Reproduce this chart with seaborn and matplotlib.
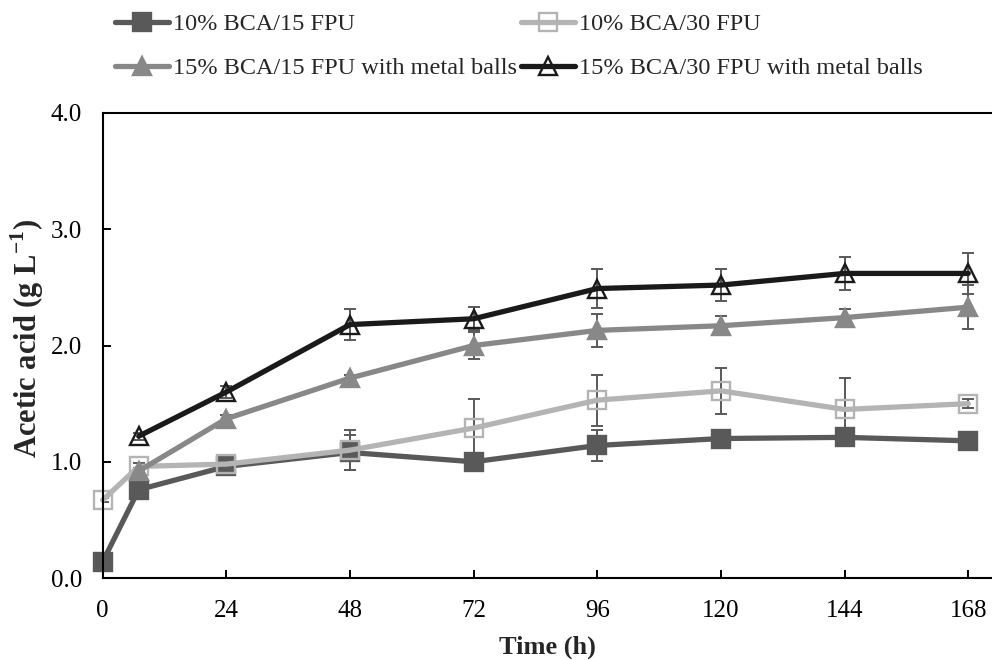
"""Acetic acid timecourse, four hydrolysis conditions, with error bars."""
import pandas as pd
import seaborn as sns
import matplotlib.pyplot as plt

sns.set_style("ticks")
plt.rcParams["font.family"] = ["Liberation Serif", "DejaVu Serif"]
plt.rcParams["mathtext.fontset"] = "custom"
plt.rcParams["mathtext.rm"] = "Liberation Serif"
plt.rcParams["mathtext.bf"] = "Liberation Serif:bold"


############################## Data.

labels = ["10% BCA/15 FPU", "10% BCA/30 FPU",
          "15% BCA/15 FPU with metal balls", "15% BCA/30 FPU with metal balls"]

time_10 = [0, 7, 24, 48, 72, 96, 120, 144, 168]
time_15 = [7, 24, 48, 72, 96, 120, 144, 168]

acid_10_15 = [0.14, 0.76, 0.96, 1.08, 1.00, 1.14, 1.20, 1.21, 1.18]
err_10_15 = [0.02, 0.07, 0.03, 0.15, 0.03, 0.13, 0.03, 0.03, 0.03]

acid_10_30 = [0.67, 0.96, 0.98, 1.10, 1.29, 1.53, 1.61, 1.45, 1.50]
err_10_30 = [0.02, 0.03, 0.03, 0.17, 0.25, 0.22, 0.20, 0.27, 0.04]

acid_15_15 = [0.92, 1.37, 1.72, 2.00, 2.13, 2.17, 2.24, 2.33]
err_15_15 = [0.03, 0.03, 0.03, 0.12, 0.14, 0.08, 0.07, 0.19]

acid_15_30 = [1.22, 1.60, 2.18, 2.23, 2.49, 2.52, 2.62, 2.62]
err_15_30 = [0.03, 0.05, 0.13, 0.10, 0.17, 0.14, 0.14, 0.18]

xticks = [0, 24, 48, 72, 96, 120, 144, 168]
yticks = [0.0, 1.0, 2.0, 3.0, 4.0]


############################## Plot it.

ERR_COLOR = "#595959"
series = [
    (time_10, acid_10_15, err_10_15, dict(color="#595959", marker="s", mfc="#595959", mec="#595959")),
    (time_10, acid_10_30, err_10_30, dict(color="#b4b4b4", marker="s", mfc="none", mec="#b4b4b4")),
    (time_15, acid_15_15, err_15_15, dict(color="#888888", marker="^", mfc="#888888", mec="#888888")),
    (time_15, acid_15_30, err_15_30, dict(color="#1a1a1a", marker="^", mfc="none", mec="#1a1a1a")),
]

fig = plt.figure(figsize=(9.92, 6.6), dpi=100)
ax = fig.add_axes([0.1035, 0.1242, 0.8965, 0.7046])

handles = []
for (t, y, e, st), lab in zip(series, labels):
    ax.errorbar(t, y, yerr=e, fmt="none", ecolor=ERR_COLOR,
                elinewidth=1.4, capsize=4.5, capthick=1.4, zorder=1)
    sns.lineplot(x=t, y=y, ax=ax, color=st["color"], marker=st["marker"],
                 markersize=12.5, markerfacecolor=st["mfc"],
                 markeredgecolor=st["mec"], markeredgewidth=1.7,
                 linewidth=3.8, errorbar=None, label=lab, zorder=2,
                 clip_on=False)
    handles.append(ax.get_lines()[-1])

if ax.get_legend() is not None:
    ax.get_legend().remove()

# a e s t h e t i c s
ax.set_xlim(0, 172.6)
ax.set_ylim(0, 4.0)
ax.set_xticks(xticks)
ax.set_yticks(yticks)
ax.set_yticklabels([f"{v:.1f}" for v in yticks])
ax.tick_params(axis="both", direction="in", length=6, width=1.4,
               labelsize=18, colors="black")
ax.tick_params(axis="x", pad=15.5)
ax.tick_params(axis="y", pad=15)
for side in ["left", "bottom", "top"]:
    ax.spines[side].set_linewidth(1.5)
    ax.spines[side].set_color("black")
ax.spines["right"].set_visible(False)
ax.set_xlabel("Time (h)", fontsize=19, fontweight="bold", labelpad=10)
ax.set_ylabel(r"Acetic acid (g L$^{\mathbf{-1}}$)", fontsize=22,
              fontweight="bold", labelpad=3)
ax.yaxis.label.set_y(0.515)

order = [0, 2, 1, 3]
fig.legend([handles[i] for i in order], [labels[i] for i in order],
           ncol=2, loc="upper left", bbox_to_anchor=(0.116, 0.980),
           frameon=False, fontsize=17.5, handlelength=2.2, handletextpad=0.2,
           columnspacing=0.15, labelspacing=0.9, borderpad=0, borderaxespad=0)

fig.savefig("out.png", dpi=100)
plt.close()
